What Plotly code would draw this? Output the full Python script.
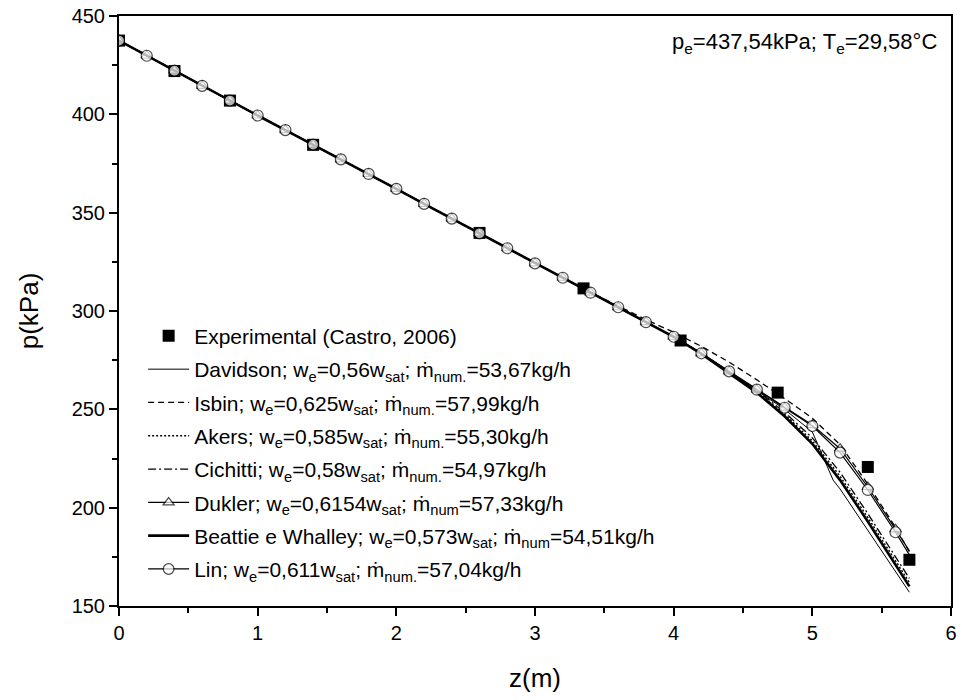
import plotly.graph_objects as go

# ---------------- data ----------------
z_exp = [0.0, 0.4, 0.8, 1.4, 2.6, 3.35, 4.05, 4.75, 5.4, 5.7]
p_exp = [437.5, 422.0, 407.0, 384.5, 339.7, 311.5, 285.0, 258.5, 220.7, 173.5]

z_mod = [0.0, 0.2, 0.4, 0.6, 0.8, 1.0, 1.2, 1.4, 1.6, 1.8, 2.0, 2.2, 2.4, 2.6, 2.8,
         3.0, 3.2, 3.4, 3.6, 3.8, 4.0, 4.2, 4.4, 4.6, 4.8, 5.0, 5.2, 5.4, 5.6, 5.7]

z_davidson = [0.0, 0.2, 0.4, 0.6, 0.8, 1.0, 1.2, 1.4, 1.6, 1.8, 2.0, 2.2, 2.4, 2.6, 2.8,
              3.0, 3.2, 3.4, 3.6, 3.8, 4.0, 4.2, 4.4, 4.6, 4.8, 5.0, 5.15, 5.2, 5.4, 5.6, 5.7]
p_davidson = [437.5, 429.8, 422.2, 414.5, 407.0, 399.4, 392.0, 384.6, 377.1, 369.7, 362.1,
              354.5, 347.0, 339.5, 331.9, 324.2, 316.9, 309.3, 301.9, 294.3, 286.9, 278.5,
              269.0, 259.5, 250.0, 238.5, 214.0, 209.5, 188.5, 167.5, 157.0]

p_isbin = [437.5, 429.8, 422.2, 414.5, 407.0, 399.4, 392.0, 384.6, 377.1, 369.7, 362.1,
           354.5, 347.0, 339.5, 331.9, 324.2, 316.9, 309.5, 302.6, 295.6, 289.2, 282.0,
           274.0, 265.0, 255.5, 245.5, 232.0, 212.0, 190.0, 177.5]

p_akers = [437.5, 429.8, 422.2, 414.5, 407.0, 399.4, 392.0, 384.6, 377.1, 369.7, 362.1,
           354.5, 347.0, 339.5, 331.9, 324.2, 316.9, 309.3, 301.9, 294.3, 286.9, 278.4,
           268.8, 259.0, 247.5, 234.0, 216.0, 195.0, 173.0, 162.0]

p_cichitti = [437.5, 429.8, 422.2, 414.5, 407.0, 399.4, 392.0, 384.6, 377.1, 369.7, 362.1,
              354.5, 347.0, 339.5, 331.9, 324.2, 316.9, 309.3, 301.9, 294.3, 286.9, 278.5,
              269.0, 259.5, 248.5, 235.5, 218.0, 197.0, 175.0, 164.0]

p_dukler = [437.5, 429.8, 422.2, 414.5, 407.0, 399.4, 392.0, 384.6, 377.1, 369.7, 362.1,
            354.5, 347.0, 339.5, 331.9, 324.2, 316.9, 309.3, 301.9, 294.3, 286.9, 278.5,
            269.3, 260.0, 250.8, 242.0, 230.0, 210.5, 189.0, 178.0]

p_beattie = [437.5, 429.8, 422.2, 414.5, 407.0, 399.4, 392.0, 384.6, 377.1, 369.7, 362.1,
             354.5, 347.0, 339.5, 331.9, 324.2, 316.9, 309.3, 301.9, 294.3, 286.9, 278.2,
             268.4, 258.5, 246.5, 232.5, 214.0, 193.0, 171.0, 160.0]

p_lin = [437.5, 429.8, 422.2, 414.5, 407.0, 399.4, 392.0, 384.6, 377.1, 369.7, 362.1,
         354.5, 347.0, 339.5, 331.9, 324.2, 316.9, 309.3, 301.9, 294.3, 286.9, 278.5,
         269.3, 260.0, 250.8, 241.5, 228.0, 209.0, 187.5, 176.0]

names = [
    "Experimental (Castro, 2006)",
    "Davidson; w<sub>e</sub>=0,56w<sub>sat</sub>; \u1e41<sub>num.</sub>=53,67kg/h",
    "Isbin; w<sub>e</sub>=0,625w<sub>sat</sub>; \u1e41<sub>num.</sub>=57,99kg/h",
    "Akers; w<sub>e</sub>=0,585w<sub>sat</sub>; \u1e41<sub>num.</sub>=55,30kg/h",
    "Cichitti; w<sub>e</sub>=0,58w<sub>sat</sub>; \u1e41<sub>num.</sub>=54,97kg/h",
    "Dukler; w<sub>e</sub>=0,6154w<sub>sat</sub>; \u1e41<sub>num</sub>=57,33kg/h",
    "Beattie e Whalley; w<sub>e</sub>=0,573w<sub>sat</sub>; \u1e41<sub>num</sub>=54,51kg/h",
    "Lin; w<sub>e</sub>=0,611w<sub>sat</sub>; \u1e41<sub>num.</sub>=57,04kg/h",
]

# ---------------- figure ----------------
FONT = "Arial, Liberation Sans, sans-serif"
fig = go.Figure()

# markers only at the 0.2 m grid, not at the final 5.7 m point
msize_circle = [11] * (len(z_mod) - 1) + [0]
msize_tri = [10] * (len(z_mod) - 1) + [0]

fig.add_trace(go.Scatter(x=z_exp, y=p_exp, mode="markers", name=names[0], legendgroup="g0",
                         marker=dict(symbol="square", size=12, color="black",
                                     line=dict(width=0))))
fig.add_trace(go.Scatter(x=z_davidson, y=p_davidson, mode="lines", name=names[1], legendgroup="g1",
                         line=dict(color="black", width=1)))
fig.add_trace(go.Scatter(x=z_mod, y=p_isbin, mode="lines", name=names[2], legendgroup="g2",
                         line=dict(color="black", width=1.3, dash="6px,4px")))
fig.add_trace(go.Scatter(x=z_mod, y=p_akers, mode="lines", name=names[3], legendgroup="g3",
                         line=dict(color="black", width=1.4, dash="2px,2px")))
fig.add_trace(go.Scatter(x=z_mod, y=p_cichitti, mode="lines", name=names[4], legendgroup="g4",
                         line=dict(color="black", width=1.3, dash="8px,3px,2px,3px")))
fig.add_trace(go.Scatter(x=z_mod, y=p_dukler, mode="lines+markers", name=names[5], legendgroup="g5",
                         line=dict(color="black", width=1.2),
                         marker=dict(symbol="triangle-up", size=msize_tri, color="white",
                                     line=dict(color="black", width=1.2))))
fig.add_trace(go.Scatter(x=z_mod, y=p_beattie, mode="lines", name=names[6], legendgroup="g6",
                         line=dict(color="black", width=2.6)))
fig.add_trace(go.Scatter(x=z_mod, y=p_lin, mode="lines+markers", name=names[7], legendgroup="g7",
                         line=dict(color="black", width=1.2),
                         marker=dict(symbol="circle", size=msize_circle, color="white",
                                     line=dict(color="black", width=1.2))))

axis_common = dict(
    showline=True, linecolor="black", linewidth=2, mirror=True,
    ticks="outside", ticklen=8, tickwidth=2, tickcolor="black",
    showgrid=False, zeroline=False,
    tickfont=dict(family=FONT, size=20, color="black"),
)

fig.update_xaxes(range=[0, 6], dtick=1, tick0=0,
                 minor=dict(dtick=0.5, ticks="outside", ticklen=5, tickwidth=2, tickcolor="black"),
                 title=dict(text="z(m)", font=dict(family=FONT, size=26, color="black"), standoff=26),
                 **axis_common)
fig.update_yaxes(range=[150, 450], dtick=50, tick0=150,
                 minor=dict(dtick=25, ticks="outside", ticklen=5, tickwidth=2, tickcolor="black"),
                 title=dict(text="p(kPa)", font=dict(family=FONT, size=26, color="black"), standoff=26),
                 **axis_common)

fig.add_annotation(xref="paper", yref="paper", x=0.985, y=0.955, xanchor="right", yanchor="middle",
                   text="p<sub>e</sub>=437,54kPa; T<sub>e</sub>=29,58\u00b0C", showarrow=False,
                   font=dict(family=FONT, size=22, color="black"))

fig.update_layout(
    width=962, height=700,
    margin=dict(l=119, r=11, t=16, b=94, autoexpand=False),
    paper_bgcolor="white", plot_bgcolor="white",
    font=dict(family=FONT, size=21, color="black"),
    legend=dict(x=0.029, y=0.492, xanchor="left", yanchor="top",
                bgcolor="rgba(0,0,0,0)", borderwidth=0,
                traceorder="grouped", tracegroupgap=3, itemwidth=41,
                font=dict(family=FONT, size=21, color="black")),
    showlegend=True,
)

fig.write_html("out.html")
